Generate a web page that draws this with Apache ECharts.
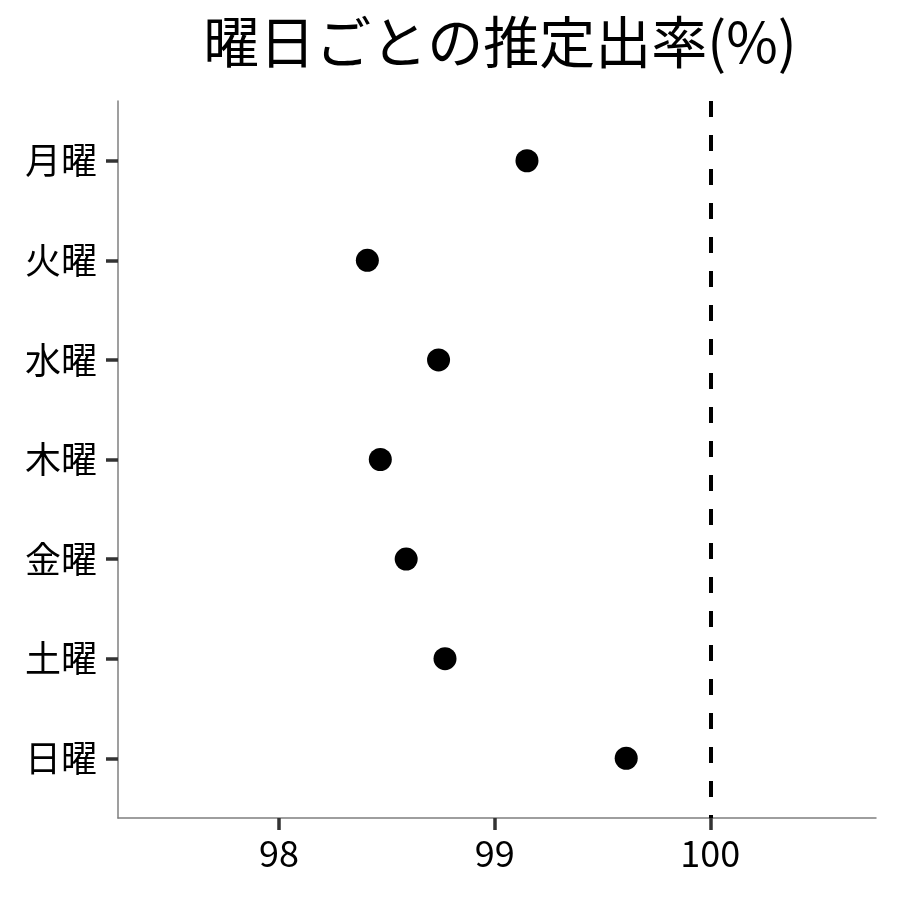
<!DOCTYPE html>
<html>
<head>
<meta charset="utf-8">
<script src="https://cdn.jsdelivr.net/npm/echarts@6/dist/echarts.min.js"></script>
<style>
html,body{margin:0;padding:0;background:#fff;}
#chart{width:900px;height:900px;}
</style>
</head>
<body>
<div id="chart"></div>
<script>
const days = ['月曜','火曜','水曜','木曜','金曜','土曜','日曜'];
const rates = [99.15, 98.41, 98.74, 98.47, 98.59, 98.77, 99.61];
const xTicks = [98, 99, 100];
const refLine = 100;
const titleText = '曜日ごとの推定出率(%)';

const FONT = '"Noto Sans CJK JP", "Noto Sans", sans-serif';
const chart = echarts.init(document.getElementById('chart'), null, {renderer: 'canvas'});
const points = rates.map((v, i) => [v, i + 1]);
const yPos = days.map((d, i) => i + 1);

chart.setOption({
  animation: false,
  backgroundColor: '#ffffff',
  title: {
    text: titleText,
    left: 495,
    top: 9,
    textAlign: 'center',
    textStyle: {fontFamily: FONT, fontSize: 56, fontWeight: 'normal', color: '#000'}
  },
  grid: {left: 118, right: 24, top: 101, bottom: 82, containLabel: false},
  xAxis: {
    type: 'value',
    min: 97.254,
    max: 100.768,
    splitLine: {show: false},
    axisLine: {show: true, lineStyle: {color: '#7f7f7f', width: 1.5}},
    axisTick: {show: true, customValues: xTicks, length: 12, lineStyle: {color: '#333333', width: 3.5}},
    axisLabel: {customValues: xTicks, margin: 17, fontFamily: FONT, fontSize: 36, color: '#000'}
  },
  yAxis: {
    type: 'value',
    min: 0.4,
    max: 7.6,
    inverse: true,
    splitLine: {show: false},
    axisLine: {show: true, lineStyle: {color: '#7f7f7f', width: 1.5}},
    axisTick: {show: true, customValues: yPos, length: 12, lineStyle: {color: '#333333', width: 3.5}},
    axisLabel: {
      customValues: yPos,
      margin: 21,
      fontFamily: FONT, fontSize: 36, color: '#000',
      formatter: v => days[Math.round(v) - 1] || ''
    }
  },
  series: [{
    type: 'scatter',
    data: points,
    symbol: 'circle',
    symbolSize: 23,
    itemStyle: {color: '#000000', opacity: 1},
    emphasis: {disabled: true},
    markLine: {
      silent: true,
      symbol: ['none', 'none'],
      label: {show: false},
      lineStyle: {color: '#000', width: 4, type: [16, 18], opacity: 1},
      data: [{xAxis: refLine}]
    }
  }]
});
</script>
</body>
</html>
